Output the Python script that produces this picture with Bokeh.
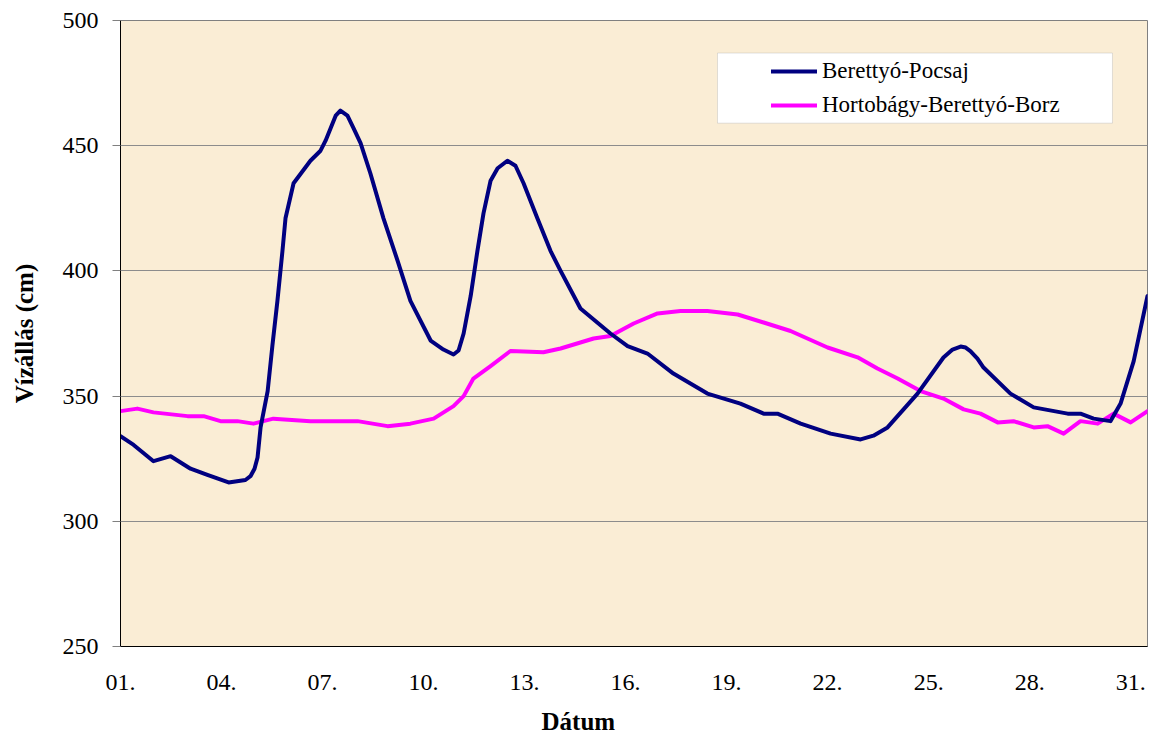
from bokeh.plotting import figure
from bokeh.models import (Range1d, FixedTicker, Legend, LegendItem, Title,
                          BoxAnnotation, ColumnDataSource)
from bokeh.embed import file_html
from bokeh.resources import INLINE

# ---- data ----
tick_days = [1, 4, 7, 10, 13, 16, 19, 22, 25, 28, 31]
tick_labels = ["01.", "04.", "07.", "10.", "13.", "16.", "19.", "22.", "25.", "28.", "31."]
y_ticks = [250, 300, 350, 400, 450, 500]

pocsaj_day = [1.00, 1.39, 1.98, 2.49, 3.08, 3.58, 4.21, 4.71, 4.86, 4.98, 5.07, 5.16,
              5.37, 5.51, 5.66, 5.81, 5.90, 6.14, 6.64, 6.94, 7.09, 7.24, 7.39, 7.53,
              7.74, 7.92, 8.13, 8.42, 8.81, 9.23, 9.61, 10.21, 10.59, 10.89, 11.04,
              11.19, 11.40, 11.60, 11.78, 11.99, 12.20, 12.49, 12.73, 12.97, 13.38,
              13.77, 14.07, 14.66, 15.55, 16.06, 16.65, 17.42, 18.43, 19.41, 20.10,
              20.51, 21.20, 22.09, 22.98, 23.36, 23.78, 24.67, 25.44, 25.71, 25.95,
              26.10, 26.24, 26.45, 26.63, 27.43, 28.12, 29.13, 29.51, 29.90, 30.40,
              30.70, 31.09, 31.50]
pocsaj_cm = [334, 330.5, 324, 326, 321, 318.5, 315.5, 316.5, 318, 321, 325.5, 337.5,
             352, 370, 388, 408, 421, 435, 444, 448, 452, 457, 462, 464,
             462, 457, 451, 439, 421, 404, 388, 372.2, 368.6, 366.6, 368.2,
             375, 390, 408, 423, 436, 441, 444, 442, 435, 421,
             408, 400, 385, 375, 370, 367, 359, 351, 347, 343,
             343, 339, 335, 332.7, 334.2, 337.5, 351, 365.4, 368.6, 369.8,
             369.4, 368, 365, 361.4, 351, 345.5, 343, 343, 341, 340,
             347, 364, 390]

borz_day = [1.00, 1.50, 1.98, 2.99, 3.47, 3.97, 4.47, 4.95, 5.54, 6.64, 8.04, 8.93,
            9.61, 10.30, 10.89, 11.19, 11.48, 11.99, 12.58, 13.56, 14.07, 15.05,
            15.55, 16.24, 16.95, 17.63, 18.43, 19.33, 20.10, 20.90, 22.00, 22.89,
            23.48, 24.08, 24.76, 25.44, 26.04, 26.54, 27.05, 27.52, 28.12, 28.53,
            29.01, 29.51, 30.02, 30.49, 31.00, 31.50]
borz_cm = [344, 345, 343.5, 342, 342, 340, 340, 339, 341, 340, 340, 338,
           339, 341, 346, 350, 357, 362, 368, 367.5, 369, 373,
           374, 379, 383, 384, 384, 382.6, 379.4, 376, 369.4, 365.5,
           361, 357, 352, 349, 344.7, 343, 339.5, 340, 337.5, 338,
           335, 340, 339, 343, 339.5, 344]

series_names = ["Berettyó-Pocsaj", "Hortobágy-Berettyó-Borz"]

FONT = "Liberation Serif"

p = figure(width=1150, height=735, output_backend="svg", toolbar_location=None,
           x_range=Range1d(1, 31.5), y_range=Range1d(250, 500),
           min_border_left=120, min_border_right=3, min_border_top=20,
           min_border_bottom=10, frame_width=1027, frame_height=626)

p.background_fill_color = "#FAEDD5"
p.border_fill_color = "white"
p.outline_line_color = "#808080"
p.outline_line_width = 1

# grid
p.xgrid.visible = False
p.ygrid.ticker = FixedTicker(ticks=y_ticks)
p.ygrid.grid_line_color = "#8c8c8c"
p.ygrid.grid_line_width = 1

# y axis
p.yaxis.ticker = FixedTicker(ticks=y_ticks)
p.yaxis.axis_line_color = "black"
p.yaxis.major_tick_out = 8
p.yaxis.major_tick_in = 0
p.yaxis.major_tick_line_color = "#808080"
p.yaxis.minor_tick_line_color = None
p.yaxis.major_label_standoff = 14
p.yaxis.major_label_text_font = FONT
p.yaxis.major_label_text_font_size = "24px"
p.yaxis.major_label_text_color = "black"
p.yaxis.axis_label = "Vízállás (cm)"
p.yaxis.axis_label_text_font = FONT
p.yaxis.axis_label_text_font_style = "bold"
p.yaxis.axis_label_text_font_size = "25px"
p.yaxis.axis_label_text_color = "black"
p.yaxis.axis_label_standoff = 22

# x axis
p.xaxis.ticker = FixedTicker(ticks=tick_days)
p.xaxis.major_label_overrides = {d: l for d, l in zip(tick_days, tick_labels)}
p.xaxis.axis_line_color = "black"
p.xaxis.major_tick_out = 0
p.xaxis.major_tick_in = 0
p.xaxis.minor_tick_line_color = None
p.xaxis.major_label_standoff = 28
p.xaxis.major_label_text_font = FONT
p.xaxis.major_label_text_font_size = "24px"
p.xaxis.major_label_text_color = "black"

xt = Title(text="Dátum", align="left", offset=421, text_font=FONT,
           text_font_style="bold", text_font_size="25px", text_color="black",
           vertical_align="top", standoff=30)
p.add_layout(xt, "below")

# legend box
box = BoxAnnotation(left=18.73, right=30.46, bottom=459, top=487,
                    fill_color="white", fill_alpha=1,
                    line_color="#a0a0a0", line_width=1, level="underlay")
p.add_layout(box)

src1 = ColumnDataSource(dict(x=pocsaj_day, y=pocsaj_cm))
src2 = ColumnDataSource(dict(x=borz_day, y=borz_cm))
r2 = p.line("x", "y", source=src2, line_color="#FF00FF", line_width=4,
            line_join="round", line_cap="round")
r1 = p.line("x", "y", source=src1, line_color="#000080", line_width=4,
            line_join="round", line_cap="round")

legend = Legend(items=[LegendItem(label=series_names[0], renderers=[r1]),
                       LegendItem(label=series_names[1], renderers=[r2])],
                location=(651, 528), padding=0, spacing=8,
                label_height=24, glyph_height=24, glyph_width=46,
                label_standoff=5, label_text_font=FONT,
                label_text_font_size="23px", label_text_color="black",
                background_fill_alpha=0, border_line_alpha=0, margin=0)
p.add_layout(legend)

open("out.html", "w").write(file_html(p, INLINE))
